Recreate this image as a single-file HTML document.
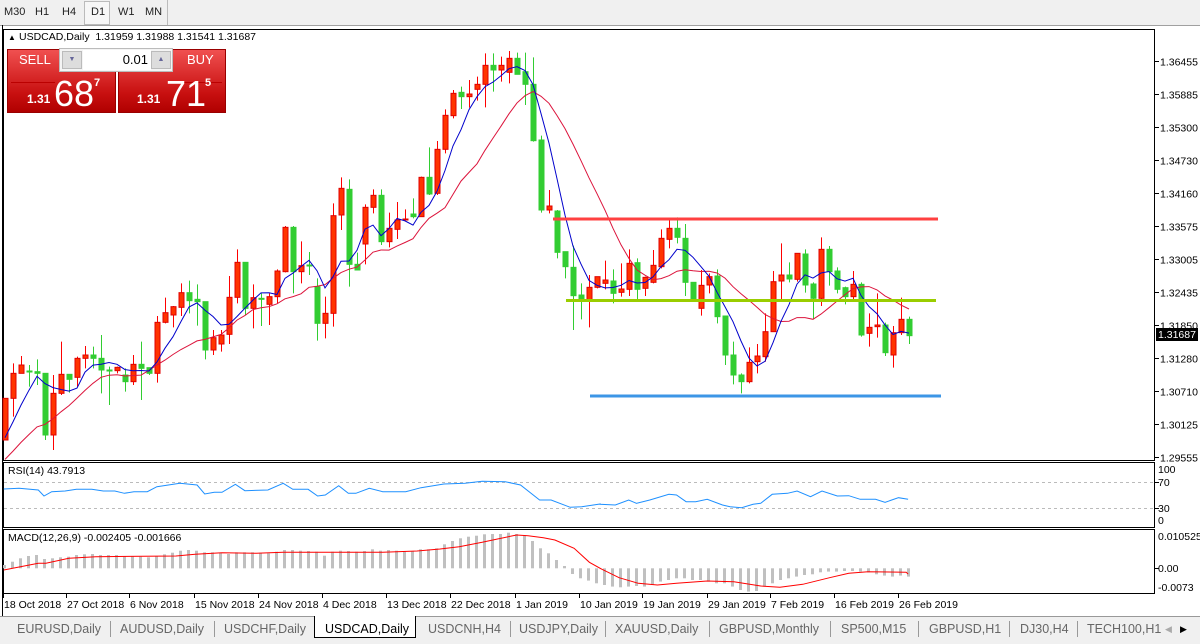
<!DOCTYPE html>
<html><head><meta charset="utf-8">
<style>
html,body{margin:0;padding:0;width:1200px;height:643px;overflow:hidden;background:#fff;font-family:"Liberation Sans",sans-serif;}
#top{position:absolute;left:0;top:0;width:1200px;height:25px;background:#f0f0f0;border-bottom:1px solid #a0a0a0;}
.tf{position:absolute;top:6px;font-size:11px;color:#222;}
#d1{position:absolute;left:84px;top:1px;width:24px;height:22px;border:1px solid #bbb;background:#f7f7f7;}
#tabs{position:absolute;left:0;top:616px;width:1200px;height:27px;background:#f0f0f0;border-top:1px solid #999;}
.tab{position:absolute;top:5px;font-size:12.5px;color:#666;}
.sep{position:absolute;top:4px;width:1px;height:16px;background:#999;}
svg{position:absolute;left:0;top:0}
.tp{position:absolute;color:#fff;}
</style></head><body>
<div id="top">
<div id="d1"></div>
<span class="tf" style="left:4px">M30</span><span class="tf" style="left:35px">H1</span><span class="tf" style="left:62px">H4</span><span class="tf" style="left:91px">D1</span><span class="tf" style="left:118px">W1</span><span class="tf" style="left:145px">MN</span>
<div style="position:absolute;left:167px;top:0;width:1px;height:25px;background:#bbb"></div>
</div>
<svg id="s" width="1200" height="643" xmlns="http://www.w3.org/2000/svg"></svg>
<div style="position:absolute;left:7px;top:49px;width:109px;height:64px;background:linear-gradient(#f05050,#c81010 70%,#b00000);border:1px solid #900;box-sizing:border-box"></div>
<div style="position:absolute;left:118px;top:49px;width:108px;height:64px;background:linear-gradient(#f05050,#c81010 70%,#b00000);border:1px solid #900;box-sizing:border-box"></div>
<div style="position:absolute;left:59px;top:48px;width:114px;height:24px;background:#f4f4f4;border:1px solid #bbb;box-sizing:border-box"></div>
<div style="position:absolute;left:62px;top:51px;width:20px;height:18px;background:#ddd;border:1px solid #bbb;box-sizing:border-box;font-size:7px;color:#669;text-align:center;line-height:16px">▼</div>
<div style="position:absolute;left:83px;top:50px;width:68px;height:20px;background:#fff;font-size:13px;text-align:right;line-height:20px;box-sizing:border-box;padding-right:3px">0.01</div>
<div style="position:absolute;left:151px;top:51px;width:20px;height:18px;background:#ddd;border:1px solid #bbb;box-sizing:border-box;font-size:7px;color:#669;text-align:center;line-height:16px">▲</div>
<div style="position:absolute;left:11px;top:82px;width:44px;height:1px;background:#b00"></div>
<div style="position:absolute;left:178px;top:82px;width:44px;height:1px;background:#b00"></div>
<div class="tp" style="left:19px;top:52px;font-size:13px">SELL</div>
<div class="tp" style="left:187px;top:52px;font-size:13px">BUY</div>
<div class="tp" style="left:27px;top:92px;font-size:12px;font-weight:bold">1.31</div>
<div class="tp" style="left:54px;top:74px;font-size:36px;line-height:40px">68</div>
<div class="tp" style="left:94px;top:77px;font-size:11px;font-weight:bold">7</div>
<div class="tp" style="left:137px;top:92px;font-size:12px;font-weight:bold">1.31</div>
<div class="tp" style="left:166px;top:74px;font-size:36px;line-height:40px">71</div>
<div class="tp" style="left:205px;top:77px;font-size:11px;font-weight:bold">5</div>
<div id="tabs">
<span class="tab" style="left:17px">EURUSD,Daily</span><span class="sep" style="left:110px"></span>
<span class="tab" style="left:120px">AUDUSD,Daily</span><span class="sep" style="left:214px"></span>
<span class="tab" style="left:224px">USDCHF,Daily</span>
<div style="position:absolute;left:314px;top:-1px;width:102px;height:22px;background:#fff;border:1px solid #000;border-top:none;box-sizing:border-box"></div>
<span class="tab" style="left:325px;color:#000">USDCAD,Daily</span>
<span class="tab" style="left:428px">USDCNH,H4</span><span class="sep" style="left:510px"></span>
<span class="tab" style="left:519px">USDJPY,Daily</span><span class="sep" style="left:605px"></span>
<span class="tab" style="left:615px">XAUUSD,Daily</span><span class="sep" style="left:709px"></span>
<span class="tab" style="left:719px">GBPUSD,Monthly</span><span class="sep" style="left:830px"></span>
<span class="tab" style="left:841px">SP500,M15</span><span class="sep" style="left:918px"></span>
<span class="tab" style="left:929px">GBPUSD,H1</span><span class="sep" style="left:1009px"></span>
<span class="tab" style="left:1020px">DJ30,H4</span><span class="sep" style="left:1077px"></span>
<span class="tab" style="left:1087px">TECH100,H1</span>
<span class="tab" style="left:1165px;font-size:9px;top:7px;color:#aaa">◀</span><span class="tab" style="left:1180px;font-size:9px;top:7px;color:#000">▶</span>
</div>
<script>
var C=[
[1075,1200,1075,1200,'R'],[1000,1075,970,1130,'R'],[975,1000,948,1000,'R'],[993,994,975,1040,'G'],[995,1000,958,1035,'G'],
[1000,1185,1000,1200,'G'],[1060,1185,1005,1230,'R'],[1003,1060,905,1065,'R'],[1003,1018,1003,1058,'G'],[955,1012,950,1040,'R'],
[945,955,918,985,'R'],[945,955,920,985,'G'],[955,990,885,1060,'G'],[990,992,980,1095,'G'],[982,992,980,1000,'R'],
[1005,1025,985,1055,'G'],[973,1025,945,1035,'R'],[973,985,905,1080,'G'],[983,1000,983,1005,'G'],[847,1000,828,1028,'R'],
[818,847,773,850,'R'],[800,825,798,862,'R'],[758,802,730,828,'R'],[758,782,722,820,'G'],[778,785,733,857,'G'],
[785,930,785,958,'G'],[893,930,870,945,'R'],[885,912,870,935,'R'],[772,883,708,912,'R'],[667,772,628,790,'R'],
[667,805,667,825,'G'],[773,805,733,865,'R'],[775,777,760,858,'G'],[770,793,760,855,'R'],[693,770,688,790,'R'],
[562,695,558,697,'R'],[562,695,558,760,'G'],[677,695,604,730,'R'],[675,677,636,705,'G'],[740,850,715,902,'G'],
[820,850,770,895,'R'],[527,820,490,860,'R'],[445,525,412,570,'R'],[448,673,418,740,'G'],[673,690,638,690,'G'],
[502,612,493,673,'R'],[466,502,448,520,'R'],[466,605,448,615,'G'],[565,605,518,622,'R'],[540,568,486,597,'R']];
var D=[[537,538,508,540,'R'],[522,530,475,535,'G'],[412,530,410,530,'R'],[412,462,322,465,'G'],[328,460,303,465,'R'],
[226,328,208,340,'R'],[160,227,150,235,'R'],[157,170,140,207,'G'],[162,170,120,203,'R'],[133,148,110,182,'R'],
[76,133,40,202,'R'],[76,90,40,155,'G'],[76,90,50,125,'R'],[55,97,33,130,'R'],[55,103,38,103,'G'],
[95,133,38,195,'G'],[133,302,52,305,'G'],[300,510,287,518,'G'],[498,510,450,520,'R'],[513,637,510,655,'G'],
[635,680,635,715,'G'],[682,767,617,870,'G'],[765,780,730,838,'G'],[742,780,705,862,'R'],[710,742,710,745,'R'],
[720,730,662,748,'R'],[723,760,688,790,'G'],[747,757,670,770,'R'],[670,748,628,768,'R'],[668,748,655,780,'G'],
[712,745,710,768,'R'],[676,727,630,730,'R'],[595,680,568,685,'R'],[565,598,540,625,'R'],[565,592,532,610,'G'],
[595,727,552,768,'G'],[727,780,727,780,'G'],[736,805,690,827,'R'],[710,735,700,760,'R'],[708,830,688,850,'G'],
[828,945,828,975,'G'],[945,1005,905,1033,'G'],[1005,1025,1000,1060,'G'],[967,1025,922,1030,'R'],[948,965,912,1000,'R'],
[875,950,820,965,'R'],[725,875,693,875,'R'],[705,723,610,780,'R'],[705,717,667,727,'G'],[640,718,640,725,'R'],
[642,735,628,758,'G'],[732,775,727,838,'G'],[628,775,592,798,'R'],[628,695,618,737,'G'],[693,748,682,760,'G'],
[743,770,740,793,'G'],[733,770,693,778,'R'],[733,885,727,890,'G'],[862,880,820,920,'R'],[855,860,760,893,'R'],
[855,938,848,948,'G'],[878,945,858,983,'R'],[838,878,773,885,'R'],[838,887,830,912,'G']];
var all=C.concat(D).map(function(c){return [40+c[0]/3,40+c[1]/3,40+c[2]/3,40+c[3]/3,c[4]];});
var h='';
function L(x1,y1,x2,y2,c,w,d){return '<line x1="'+x1+'" y1="'+y1+'" x2="'+x2+'" y2="'+y2+'" stroke="'+c+'" stroke-width="'+(w||1)+'"'+(d?' stroke-dasharray="'+d+'"':'')+'/>';}
function T(x,y,t,s,a,c){return '<text x="'+x+'" y="'+y+'" font-size="'+(s||11)+'" fill="'+(c||'#000')+'"'+(a?' text-anchor="'+a+'"':'')+'>'+t+'</text>';}
h+='<rect x="3.5" y="29.5" width="1151" height="431" fill="none" stroke="#000"/>';
h+='<rect x="3.5" y="462.5" width="1151" height="65" fill="none" stroke="#000"/>';
h+='<rect x="3.5" y="529.5" width="1151" height="64" fill="none" stroke="#000"/>';
h+=L(2.5,25,2.5,616,'#000');
var pl=['1.36455','1.35885','1.35300','1.34730','1.34160','1.33575','1.33005','1.32435','1.31850','1.31280','1.30710','1.30125','1.29555'];
for(var i=0;i<pl.length;i++){var y=61.5+i*33;h+=L(1155,y,1159,y,'#000');h+=T(1160,y+4,pl[i],10.5);}
var cl=[];
all.forEach(function(c,i){var x=5+8*i;var col=c[4]=='R'?'#ff3300':'#32cd32';var bc=c[4]=='R'?'#e00000':'#32cd32';
cl.push(c[4]=='R'?c[0]:c[1]);
h+=L(x+0.5,c[2],x+0.5,c[3],c[4]=='R'?'#ff0000':'#32cd32');
var bh=Math.max(1,c[1]-c[0]);h+='<rect x="'+(x-2)+'" y="'+c[0]+'" width="5" height="'+bh+'" fill="'+col+'" stroke="'+bc+'" stroke-width="1"/>';});
function ma(n,pad){var out=[];for(var i=0;i<cl.length;i++){var s=0;for(var k=0;k<n;k++){var j=i-k;s+=j>=0?cl[j]:pad+(-j)*3;}out.push(s/n);}return out;}
var m1=ma(5,440),m2=ma(13,445);
function pl2(a,c){var p=a.map(function(v,i){return (5+8*i)+','+v.toFixed(1);}).join(' ');return '<polyline points="'+p+'" fill="none" stroke="'+c+'" stroke-width="1"/>';}
h+=pl2(m2,'#dc143c');h+=pl2(m1,'#0000cc');
h+=L(553,219,938,219,'#ff4040',3);h+=L(566,300.5,936,300.5,'#9acd00',3);h+=L(590,396,941,396,'#3c96e6',3);
h+='<rect x="1156" y="328" width="42" height="13" fill="#000"/>'+T(1158,338,'1.31687',10.5,null,'#fff');
h+=T(8,40,'▲',8)+T(19,40,'USDCAD,Daily&#160; 1.31959 1.31988 1.31541 1.31687',10.5);
h+=L(4,482.5,1154,482.5,'#bbb',1,'3,3')+L(4,508.5,1154,508.5,'#bbb',1,'3,3');
h+=T(8,474,'RSI(14) 43.7913',10.5);
[['100',473],['70',486],['30',512],['0',524]].forEach(function(a){h+=T(1158,a[1],a[0],10.5);});
var r1=[[10,102],[50,100],[100,105],[115,123],[135,110],[170,108],[200,103],[240,103],[270,108],[300,108],[325,115],[350,110],[385,110],[410,95],[440,90],[470,85],[515,90],[535,117],[560,112],[580,112],[615,88],[640,107],[700,105],[740,85],[765,103],[805,103],[830,123],[850,120],[885,92],[910,115],[930,115],[965,100],[1000,110],[1060,110],[1100,98],[1160,87],[1215,85],[1260,79],[1320,80],[1360,90],[1410,135],[1440,135],[1490,157],[1520,155],[1568,147]];
var r2=[[0,148],[40,150],[75,135],[95,145],[130,135],[180,118],[200,120],[225,140],[250,140],[280,133],[320,150],[340,155],[370,158],[400,148],[420,145],[450,118],[490,115],[515,108],[550,125],[580,108],[620,123],[650,122],[680,133],[720,133],[745,142],[780,128],[805,133]];
var rp=r1.map(function(p){return (p[0]/2.613).toFixed(1)+','+(455+p[1]/3).toFixed(1);}).concat(r2.map(function(p){return (600+p[0]/2.613).toFixed(1)+','+(455+p[1]/3).toFixed(1);}));
h+='<polyline points="'+rp.join(' ')+'" fill="none" stroke="#1e90ff" stroke-width="1"/>';
h+=T(8,541,'MACD(12,26,9) -0.002405 -0.001666',10.5);
[['0.010525',540],['0.00',572],['-0.0073',591]].forEach(function(a){h+=T(1158,a[1],a[0],10.5);});
var hp=[330,320,310,303,300,312,310,307,305,300,298,297,300,300,300,303,303,305,307,303,298,293,287,285,287,292,292,293,297,292,292,292,293,295,290,285,285,287,288,290,302,290,287,288,290,288,283,287,285,287,290,288,283,283,280,268,258,250,245,242,238,237,237,233,237,240,258,280,295,315,333];
var hn=[357,370,377,385,390,395,397,395,393,395,390,380,375,370,370,375,375,380,385,385,395,405,410,408,395,385,375,370,365,360,358,352,350,350,348,348,350,352,358,362,365,362,365];
var z0=455+340/3;
var vals=hp.map(function(v){return 455+v/3;}).concat(hn.map(function(v){return 455+v/3;}));
vals.forEach(function(v,i){var x=4+8*i;var y1=Math.min(v,z0),y2=Math.max(v,z0);h+='<rect x="'+(x-1)+'" y="'+y1.toFixed(1)+'" width="3" height="'+Math.max(1,y2-y1).toFixed(1)+'" fill="#c0c0c0"/>';});
var s1=[[10,345],[100,325],[120,325],[180,310],[250,305],[460,303],[510,298],[580,293],[670,295],[740,292],[1000,292],[1090,288],[1150,282],[1200,275],[1260,262],[1300,252],[1350,240],[1380,242],[1420,248],[1450,255],[1500,280],[1540,322],[1568,340]];
var s2=[[0,340],[50,368],[100,385],[150,390],[200,385],[280,378],[350,380],[420,393],[470,397],[530,388],[600,368],[650,355],[700,350],[800,352],[805,357]];
var sp=s1.map(function(p){return (p[0]/2.613).toFixed(1)+','+(455+p[1]/3).toFixed(1);}).concat(s2.map(function(p){return (600+p[0]/2.613).toFixed(1)+','+(455+p[1]/3).toFixed(1);}));
h+='<polyline points="'+sp.join(' ')+'" fill="none" stroke="#ff0000" stroke-width="1"/>';
h+=L(1155,568.5,1159,568.5,'#000')+L(1155,482.5,1159,482.5,'#000')+L(1155,508.5,1159,508.5,'#000');
var dl=[[4,'18 Oct 2018'],[67,'27 Oct 2018'],[130,'6 Nov 2018'],[195,'15 Nov 2018'],[259,'24 Nov 2018'],[323,'4 Dec 2018'],[387,'13 Dec 2018'],[451,'22 Dec 2018'],[516,'1 Jan 2019'],[580,'10 Jan 2019'],[643,'19 Jan 2019'],[708,'29 Jan 2019'],[771,'7 Feb 2019'],[835,'16 Feb 2019'],[899,'26 Feb 2019']];
dl.forEach(function(d){h+=L(d[0]-0.5,594,d[0]-0.5,598,'#000')+T(d[0],608,d[1],10.5);});
document.getElementById('s').innerHTML=h;
</script>
</body></html>
